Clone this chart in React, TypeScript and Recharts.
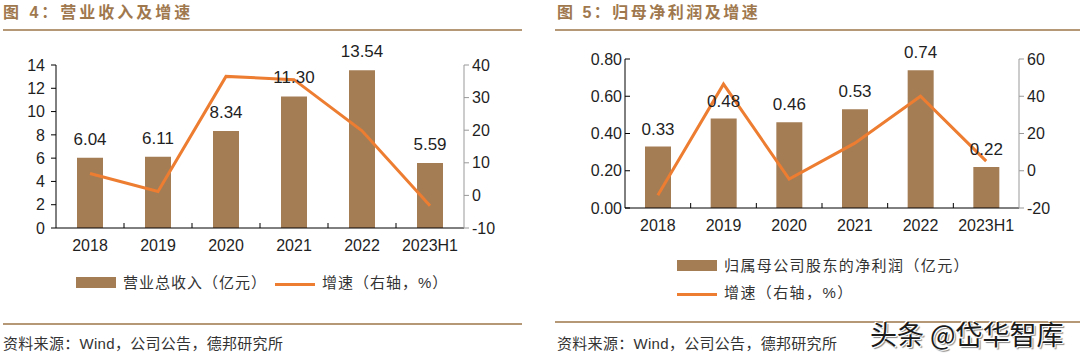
import React from "react";
import {
  ComposedChart,
  Bar,
  Line,
  XAxis,
  YAxis,
  LabelList,
} from "recharts";

const years = ["2018", "2019", "2020", "2021", "2022", "2023H1"];
const revenue = [6.04, 6.11, 8.34, 11.3, 13.54, 5.59];
const revenueGrowth = [6.7, 1.2, 36.5, 35.5, 19.8, -3.2];
const profit = [0.33, 0.48, 0.46, 0.53, 0.74, 0.22];
const profitGrowth = [-13.2, 46.5, -4.5, 14.8, 40, 5.2];

const revTicks = [0, 2, 4, 6, 8, 10, 12, 14];
const revGrowthTicks = [-10, 0, 10, 20, 30, 40];
const profitTicks = [0, 0.2, 0.4, 0.6, 0.8];
const profitGrowthTicks = [-20, 0, 20, 40, 60];

const BAR = "#A47D55";
const LINE = "#ED7D31";
const BROWN = "#A0784E";
const RULE = "#B59876";
const TEXT = "#1f1f1f";
const FONT = "'Liberation Sans', Arial, 'Noto Sans CJK SC', sans-serif";

const revData = years.map((y, i) => ({ year: y, value: revenue[i], growth: revenueGrowth[i] }));
const profitData = years.map((y, i) => ({ year: y, value: profit[i], growth: profitGrowth[i] }));

// category labels + small inward tick marks at the category boundaries
const CatTick = (props: any) => {
  const { x, y, payload, index, visibleTicksCount } = props;
  const half = payload.offset ?? 0;
  return (
    <g>
      <text x={x} y={y + 23} textAnchor="middle" fontSize={16} fill={TEXT} fontFamily={FONT}>
        {payload.value}
      </text>
      {index < visibleTicksCount - 1 && (
        <line x1={x + half} x2={x + half} y1={y} y2={y - 5} stroke="#000" />
      )}
    </g>
  );
};

const tickStyle = { fill: TEXT, fontSize: 16, fontFamily: FONT };

const abs = (extra: React.CSSProperties): React.CSSProperties => ({ position: "absolute", ...extra });

const BarSwatch = () => (
  <span style={{ display: "inline-block", width: 40, height: 11, background: BAR, marginRight: 7 }} />
);
const LineSwatch = () => (
  <span style={{ display: "inline-block", width: 40, height: 3, background: LINE, marginRight: 7, verticalAlign: "middle" }} />
);

export default function App() {
  return (
    <div style={abs({ left: 0, top: 0, width: 1080, height: 358, background: "#fff", fontFamily: FONT, overflow: "hidden" })}>
      {/* left panel */}
      <div style={abs({ left: 3, top: 3, fontSize: 16, fontWeight: 700, color: BROWN, letterSpacing: 3, lineHeight: "20px" })}>
        图 4：营业收入及增速
      </div>
      <div style={abs({ left: 3, top: 29, width: 519, height: 2, background: RULE })} />
      <div style={abs({ left: 0, top: 0 })}>
        <ComposedChart width={540} height={260} data={revData} margin={{ top: 65, right: 26, bottom: 0, left: 0 }}>
          <XAxis
            dataKey="year"
            height={32}
            stroke="#000"
            tickLine={false}
            tickSize={0}
            tickMargin={0}
            tick={<CatTick />}
            interval={0}
          />
          <YAxis
            yAxisId="l"
            width={56}
            domain={[0, 14]}
            ticks={revTicks}
            stroke="#000"
            tickSize={5}
            tickMargin={6}
            tick={tickStyle}
            interval={0}
          />
          <YAxis
            yAxisId="r"
            orientation="right"
            width={50}
            domain={[-10, 40]}
            ticks={revGrowthTicks}
            stroke="#999"
            tickSize={5}
            tickMargin={3}
            tick={tickStyle}
            interval={0}
          />
          <Bar yAxisId="l" dataKey="value" fill={BAR} barSize={26} isAnimationActive={false}>
            <LabelList
              dataKey="value"
              position="top"
              offset={13}
              formatter={(v: any) => Number(v).toFixed(2)}
              style={{ fill: TEXT, fontSize: 17, fontFamily: FONT }}
            />
          </Bar>
          <Line yAxisId="r" dataKey="growth" stroke={LINE} strokeWidth={3} dot={false} isAnimationActive={false} />
        </ComposedChart>
      </div>
      <div style={abs({ left: 76, top: 273, fontSize: 15, color: "#333", letterSpacing: 1, whiteSpace: "nowrap", lineHeight: "20px" })}>
        <BarSwatch />
        <span>营业总收入（亿元）</span>
        <span style={{ display: "inline-block", width: 8 }} />
        <LineSwatch />
        <span>增速（右轴，%）</span>
      </div>
      <div style={abs({ left: 3, top: 323, width: 519, height: 2, background: RULE })} />
      <div style={abs({ left: 3, top: 334, fontSize: 15, color: "#333", lineHeight: "20px", letterSpacing: 0.3 })}>
        资料来源：Wind，公司公告，德邦研究所
      </div>

      {/* right panel */}
      <div style={abs({ left: 557, top: 3, fontSize: 16, fontWeight: 700, color: BROWN, letterSpacing: 2.5, lineHeight: "20px" })}>
        图 5：归母净利润及增速
      </div>
      <div style={abs({ left: 555, top: 29, width: 525, height: 2, background: RULE })} />
      <div style={abs({ left: 540, top: 0 })}>
        <ComposedChart width={540} height={260} data={profitData} margin={{ top: 59, right: 11, bottom: 0, left: 0 }}>
          <XAxis
            dataKey="year"
            height={52}
            stroke="#000"
            tickLine={false}
            tickSize={0}
            tickMargin={0}
            tick={<CatTick />}
            interval={0}
          />
          <YAxis
            yAxisId="l"
            width={85}
            domain={[0, 0.8]}
            ticks={profitTicks}
            stroke="#000"
            tickSize={-5}
            tickMargin={8}
            tick={tickStyle}
            tickFormatter={(v: number) => v.toFixed(2)}
            interval={0}
          />
          <YAxis
            yAxisId="r"
            orientation="right"
            width={50}
            domain={[-20, 60]}
            ticks={profitGrowthTicks}
            stroke="#999"
            tickSize={5}
            tickMargin={3}
            tick={tickStyle}
            interval={0}
          />
          <Bar yAxisId="l" dataKey="value" fill={BAR} barSize={26} isAnimationActive={false}>
            <LabelList
              dataKey="value"
              position="top"
              offset={12}
              formatter={(v: any) => Number(v).toFixed(2)}
              style={{ fill: TEXT, fontSize: 17, fontFamily: FONT }}
            />
          </Bar>
          <Line yAxisId="r" dataKey="growth" stroke={LINE} strokeWidth={3} dot={false} isAnimationActive={false} />
        </ComposedChart>
      </div>
      <div style={abs({ left: 677, top: 256, fontSize: 15, color: "#333", letterSpacing: 1.4, whiteSpace: "nowrap", lineHeight: "20px" })}>
        <BarSwatch />
        <span>归属母公司股东的净利润（亿元）</span>
      </div>
      <div style={abs({ left: 677, top: 283, fontSize: 15, color: "#333", letterSpacing: 1.4, whiteSpace: "nowrap", lineHeight: "20px" })}>
        <LineSwatch />
        <span>增速（右轴，%）</span>
      </div>
      <div style={abs({ left: 555, top: 321, width: 525, height: 2, background: RULE })} />
      <div style={abs({ left: 557, top: 334, fontSize: 15, color: "#333", lineHeight: "20px", letterSpacing: 0.3 })}>
        资料来源：Wind，公司公告，德邦研究所
      </div>
      <div
        style={abs({
          left: 870,
          top: 318,
          fontSize: 27,
          color: "#1a1a1a",
          lineHeight: "32px",
          whiteSpace: "nowrap",
          fontFamily: "'Noto Sans CJK SC', sans-serif",
          textShadow: "1px 1px 0 #fff, -1px -1px 0 #fff, 2px 2px 1px #888",
        })}
      >
        头条 @岱华智库
      </div>
    </div>
  );
}
